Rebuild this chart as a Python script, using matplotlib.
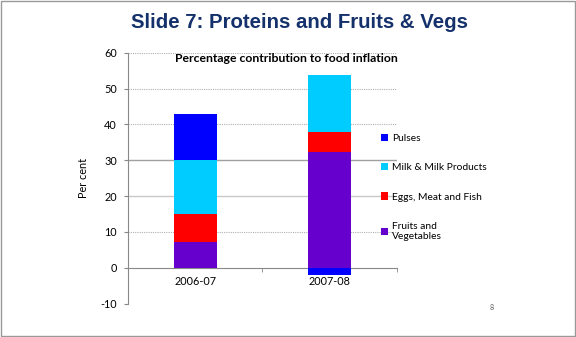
import matplotlib.pyplot as plt
from matplotlib.patches import Rectangle

plt.rcParams['font.family'] = ['Lato', 'DejaVu Sans']
plt.rcParams['axes.unicode_minus'] = False

# contributions (percentage points) to food inflation, stacked bottom to top
years = ['2006-07', '2007-08']
fruits_veg = [7.2, 32.2]
eggs_meat_fish = [7.8, 5.6]
milk = [15.0, 16.0]
pulses = [12.8, -2.0]

series_names = ['Fruits and\nVegetables', 'Eggs, Meat and Fish', 'Milk & Milk Products', 'Pulses']
series_colors = ['#6600CC', '#FF0000', '#00CCFF', '#0000FF']

fig = plt.figure(figsize=(5.76, 3.37), dpi=100)
ax = fig.add_axes([0.222, 0.0994, 0.467, 0.7442])

x = list(range(len(years)))
pos_base = [0.0] * len(years)
neg_base = [0.0] * len(years)
handles = []
for vals, name, col in zip([fruits_veg, eggs_meat_fish, milk, pulses], series_names, series_colors):
    bottoms = []
    for i, v in enumerate(vals):
        if v >= 0:
            bottoms.append(pos_base[i])
            pos_base[i] += v
        else:
            bottoms.append(neg_base[i])
            neg_base[i] += v
    b = ax.bar(x, vals, bottom=bottoms, width=0.32, color=col, label=name, zorder=3)
    handles.append(b)

ax.set_xlim(-0.5, 1.5)
ax.set_ylim(-10, 60)
ax.set_yticks(range(-10, 61, 10))

# gridlines across the plot
for yv in range(10, 61, 10):
    if yv in (20, 30):
        ax.axhline(yv, color='#A0A0A0' if yv == 30 else '#C8C8C8', lw=1.0, zorder=1)
    else:
        ax.axhline(yv, color='#B0B0B0', lw=0.8, ls=(0, (1, 1)), zorder=1)

for s in ['top', 'right']:
    ax.spines[s].set_visible(False)
ax.spines['left'].set_color('#888888')
ax.spines['bottom'].set_color('#888888')
ax.spines['bottom'].set_position(('data', 0))

ax.set_xticks(x)
ax.set_xticklabels(years, fontsize=7.8)
ax.set_xticks([-0.5, 0.5, 1.5], minor=True)
ax.tick_params(axis='x', which='major', length=0, pad=6)
ax.tick_params(axis='x', which='minor', length=3, color='#888888')
ax.tick_params(axis='y', labelsize=7.8, length=3, color='#888888', pad=5)
ax.set_ylabel('Per cent', fontsize=7.8, labelpad=8)

fig.text(0.498, 0.825, 'Percentage contribution to food inflation',
         ha='center', va='center', fontsize=8.8, fontweight='bold')

leg = fig.legend(handles[::-1], series_names[::-1], loc='upper left',
                 bbox_to_anchor=(0.645, 0.63), frameon=False, fontsize=7.4,
                 handlelength=0.7, handleheight=0.7, handletextpad=0.4,
                 labelspacing=1.95)

fig.text(0.52, 0.932, 'Slide 7: Proteins and Fruits & Vegs', ha='center', va='center',
         fontsize=14.7, fontweight='bold', color='#15316B', family='Liberation Sans')
fig.text(0.85, 0.08, '8', fontsize=5, color='#555555')

# thin frame around the slide
fig.patches.append(Rectangle((0.002, 0.003), 0.996, 0.994, transform=fig.transFigure,
                             fill=False, ec='#999999', lw=1))

fig.savefig('out.png', dpi=100)
